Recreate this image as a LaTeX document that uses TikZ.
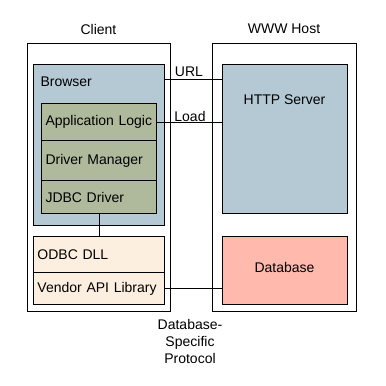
\documentclass[tikz,border=0pt]{standalone}
\usepackage{fontspec}
\setmainfont{Liberation Sans}
\definecolor{bluebox}{HTML}{B4C9D4}
\definecolor{greenbox}{HTML}{AFBA9C}
\definecolor{creambox}{HTML}{FDEFDF}
\definecolor{pinkbox}{HTML}{FFB9AD}
\begin{document}
\begin{tikzpicture}[x=1pt,y=-1pt,line width=1pt,
  every node/.style={font=\fontsize{14}{17}\selectfont},
  host/.style={draw,rectangle,inner sep=0pt},
  cell/.style={draw,rectangle,inner xsep=4pt,inner ysep=0pt,align=left,anchor=north west},
  lbl/.style={inner sep=0pt}]
\useasboundingbox (0,0) rectangle (386,386);
% hosts
\node[host,minimum width=143pt,minimum height=268pt,anchor=north west] (client) at (27,43) {};
\node[host,minimum width=144pt,minimum height=268pt,anchor=north west] (www) at (212,43) {};
\node[lbl] (clientlbl) at (98.5,29) {Client};
\node[lbl] (wwwlbl) at (284,29) {WWW Host};
% browser
\node[host,fill=bluebox,minimum width=131pt,minimum height=161pt,anchor=north west] (browser) at (33,64) {};
\node[lbl,anchor=west] (browserlbl) at (40,82) {Browser};
% stack
\node[cell,fill=greenbox,text width=107pt,minimum height=37pt] (app) at (41,103) {Application Logic};
\node[cell,fill=greenbox,text width=107pt,minimum height=40pt] (dm) at (41,140) {Driver Manager};
\node[cell,fill=greenbox,text width=107pt,minimum height=33pt] (jdbc) at (41,180) {JDBC Driver};
% odbc
\node[cell,fill=creambox,text width=123pt,minimum height=36pt] (odbc) at (33,236) {ODBC DLL};
\node[cell,fill=creambox,text width=123pt,minimum height=32pt] (vendor) at (33,272) {\raisebox{1pt}{Vendor API Library}};
% server side
\node[host,fill=bluebox,minimum width=125pt,minimum height=149pt,anchor=north west] (http) at (222,64) {};
\node[lbl] (httplbl) at (284.5,100) {HTTP Server};
\node[host,fill=pinkbox,minimum width=125pt,minimum height=68pt,anchor=north west] (db) at (222,236) {};
\node[lbl] (dblbl) at (284.5,267) {Database};
% connectors
\coordinate (urly) at (0,79);
\draw (browser.east |- urly) -- (http.west |- urly);
\node[lbl] (urllbl) at (189,72) {URL};
\draw (app.east) -- (app.east -| http.west);
\node[lbl] (loadlbl) at (190,116) {Load};
\draw (jdbc.south) -- (odbc.north -| jdbc.south);
\draw (vendor.east) -- (vendor.east -| db.west);
\node[lbl,align=center] (protolbl) at (190,341) {Database-\\Specific\\Protocol};
\end{tikzpicture}
\end{document}
